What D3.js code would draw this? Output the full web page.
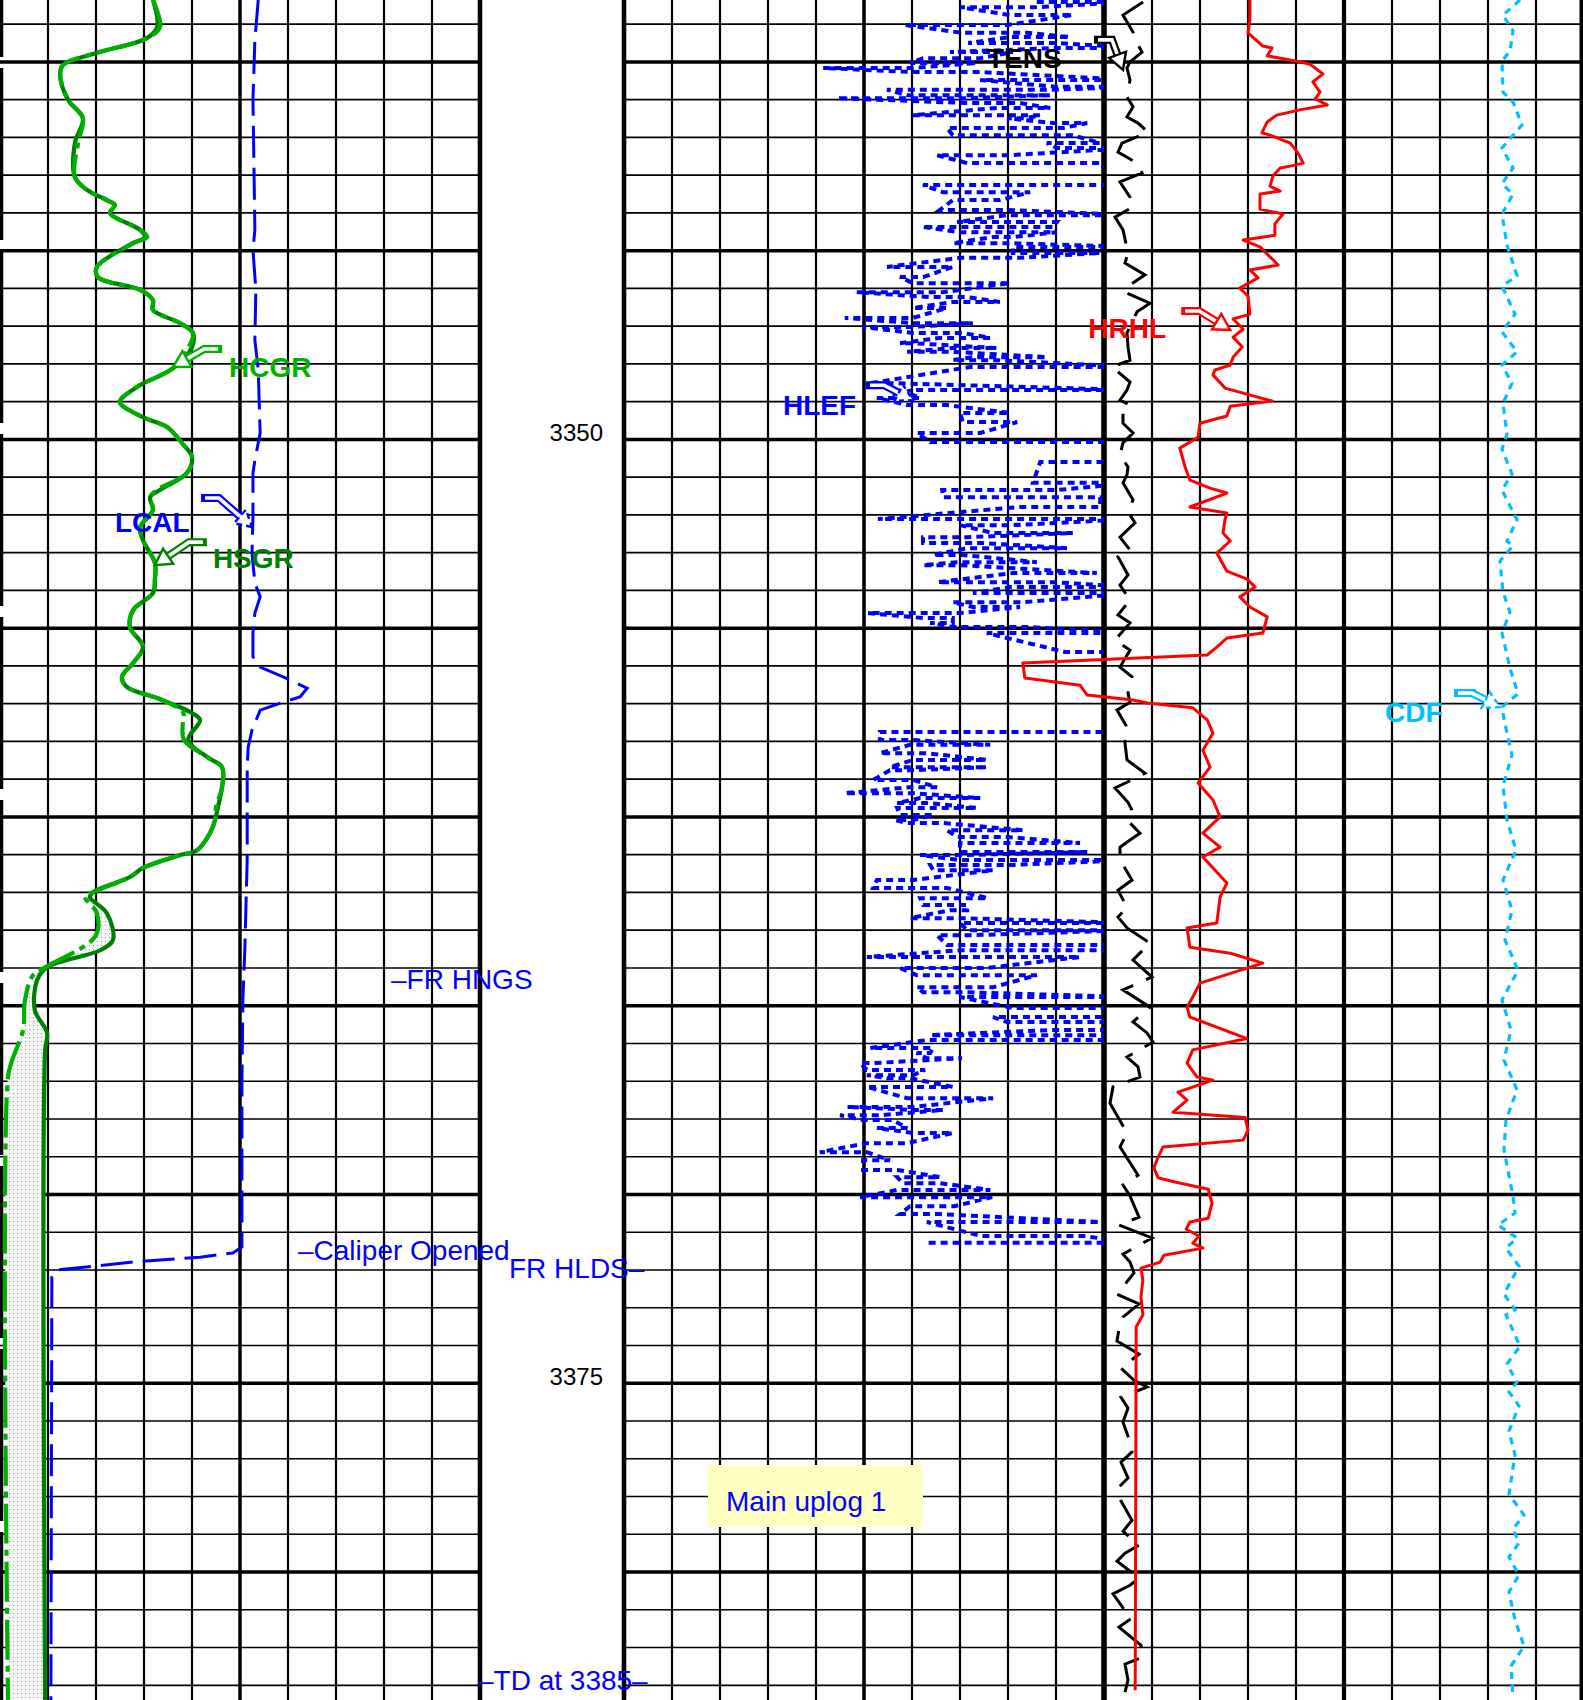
<!DOCTYPE html>
<html>
<head>
<meta charset="utf-8">
<script src="https://cdn.jsdelivr.net/npm/d3@7"></script>
<style>
html, body { margin: 0; padding: 0; background: #fff; }
svg { display: block; }
text { font-family: "Liberation Sans", Arial, Helvetica, sans-serif; }
</style>
</head>
<body>
<svg id="log" width="1583" height="1700"></svg>
<script>
// ---------- depth window (m) ----------
const DEPTH_TOP = 3338.36;
const DEPTH_BOTTOM = 3383.39;
const depthLabels = [3350, 3375];

// ---------- Track 1: gamma ray (gAPI) ----------
const HSGR = [
[3338.36,47.8],[3339.08,49.1],[3339.37,45.9],[3339.76,30.3],[3340.08,19.7],[3340.35,18.8],
[3341.01,21.3],[3341.49,25.9],[3342.15,23.4],[3343.05,23.4],[3343.39,27.2],[3343.66,33.4],
[3343.79,35.9],[3344.00,34.4],[3344.45,43.8],[3344.64,45.3],[3344.80,41.6],[3345.43,30.3],
[3345.70,30.6],[3346.04,43.8],[3346.31,47.8],[3346.57,47.8],[3346.92,56.3],[3347.18,60.3],
[3347.55,60.0],[3348.11,54.1],[3348.61,42.8],[3349.01,37.5],[3349.41,44.7],[3349.67,52.2],
[3350.10,56.9],[3350.47,60.0],[3350.89,58.4],[3351.34,50.0],[3351.53,46.9],[3351.87,47.8],
[3352.32,43.8],[3352.67,44.7],[3353.27,48.4],[3353.72,48.4],[3354.07,47.8],[3354.52,41.6],
[3354.97,40.6],[3355.50,44.7],[3355.92,41.6],[3356.29,38.1],[3356.56,39.7],[3356.85,49.1],
[3357.22,59.4],[3357.43,62.5],[3357.96,58.8],[3358.41,64.7],[3358.68,69.4],[3359.21,69.4],
[3359.74,68.1],[3360.08,67.2],[3360.43,65.6],[3360.88,61.6],[3361.01,56.3],[3361.35,44.7],
[3361.59,40.6],[3361.99,29.1],[3362.12,28.1],[3362.55,33.4],[3363.26,35.3],[3363.53,31.3],
[3363.98,14.7],[3364.32,11.6],[3365.12,10.9],[3365.72,14.7],[3366.18,14.1],[3383.39,14.1]
];
const HCGR = [
[3338.36,47.8],[3339.08,50.0],[3339.37,45.9],[3339.76,30.3],[3340.08,19.7],[3340.35,18.8],
[3341.01,21.3],[3341.49,25.9],[3342.15,24.4],[3343.05,23.4],[3343.39,27.2],[3343.66,33.4],
[3343.79,35.9],[3344.00,34.4],[3344.45,43.8],[3344.64,46.0],[3344.80,41.6],[3345.43,30.3],
[3345.70,30.6],[3346.04,43.8],[3346.31,47.8],[3346.57,47.8],[3346.92,56.3],[3347.18,60.3],
[3347.55,59.0],[3348.11,54.1],[3348.61,42.8],[3349.01,37.5],[3349.41,44.7],[3349.67,52.2],
[3350.10,56.9],[3350.47,60.0],[3350.89,58.4],[3351.34,49.0],[3351.53,46.9],[3351.87,47.8],
[3352.32,43.8],[3352.67,44.7],[3353.27,48.4],[3353.72,48.4],[3354.07,47.8],[3354.52,41.6],
[3354.97,40.6],[3355.50,44.7],[3355.92,41.6],[3356.29,38.1],[3356.56,39.7],[3356.85,49.1],
[3357.22,57.2],[3357.43,57.2],[3357.96,57.5],[3358.41,64.7],[3358.68,69.4],[3359.21,69.4],
[3359.74,67.5],[3360.08,67.2],[3360.43,65.6],[3360.88,61.6],[3361.01,56.3],[3361.35,44.7],
[3361.59,40.6],[3361.99,29.1],[3362.12,26.6],[3362.55,30.3],[3363.17,29.7],[3363.98,14.1],
[3364.19,10.3],[3364.85,7.8],[3365.65,7.2],[3366.44,3.8],[3366.89,2.5],[3383.39,2.5]
];
const GR_SPLIT_DEPTH = 3361.99;

// ---------- Track 1: caliper (in) ----------
const LCAL = [
[3338.36,11.38],[3339.42,11.31],[3341.01,11.27],[3344.45,11.31],[3344.98,11.27],[3346.04,11.33],
[3347.37,11.31],[3348.16,11.38],[3349.83,11.42],[3350.55,11.31],[3350.89,11.27],[3352.06,11.27],
[3353.01,11.25],[3353.80,11.31],[3354.17,11.42],[3354.60,11.31],[3355.13,11.27],[3355.76,11.27],
[3356.03,11.42],[3356.37,12.04],[3356.59,12.40],[3356.82,12.25],[3356.96,11.90],[3357.17,11.42],
[3357.70,11.25],[3358.15,11.17],[3358.68,11.15],[3361.14,11.15],[3363.53,11.10],[3364.85,11.06],
[3367.05,11.04],[3371.39,11.04],[3371.55,10.85],[3371.66,10.17],[3371.79,8.77],[3372.00,7.19],
[3372.19,7.08],[3383.39,7.06]
];

// ---------- Track 2: photoelectric factor sweeps [depth, from, to] (b/e) ----------
const hlefSweeps = [
[3338.41,8.60,10.6],[3338.55,7.00,8.60],[3338.76,8.04,9.35],[3339.02,5.85,7.98],[3339.23,7.04,8.40],
[3339.34,8.04,9.29],[3339.50,7.17,9.02],[3339.63,9.02,10.6],[3339.74,6.79,8.10],[3339.90,6.23,7.42],
[3340.03,5.96,7.35],[3340.16,4.15,6.02],[3340.27,6.02,7.42],[3340.48,7.42,10.6],[3340.66,9.02,10.6],
[3340.74,5.48,8.88],[3340.88,5.90,8.88],[3340.96,4.44,7.15],[3341.09,7.15,8.25],[3341.22,7.77,8.88],
[3341.41,6.02,8.67],[3341.49,7.98,8.40],[3341.62,8.94,9.65],[3341.75,6.73,9.15],[3341.94,6.85,9.35],
[3342.15,8.81,9.92],[3342.28,9.02,10.6],[3342.47,6.52,8.04],[3342.68,7.15,9.92],[3343.26,6.23,10.6],
[3343.45,6.65,8.46],[3343.66,6.85,7.83],[3343.92,6.58,7.98],[3344.06,7.98,10.6],[3344.24,6.94,9.02],
[3344.37,6.21,8.94],[3344.51,7.00,9.02],[3344.64,7.69,8.10],[3344.80,6.85,7.98],[3344.90,8.10,10.6],
[3345.06,8.10,9.92],[3345.19,7.00,8.25],[3345.43,5.48,6.85],[3345.70,5.75,6.23],[3345.86,6.02,8.04],
[3346.10,4.85,6.65],[3346.23,6.38,7.15],[3346.36,6.85,7.83],[3346.52,6.02,6.73],[3346.78,4.60,6.02],
[3346.92,6.02,7.27],[3347.02,4.96,6.02],[3347.18,6.02,7.06],[3347.31,6.58,7.63],[3347.45,5.75,6.02],
[3347.58,6.85,7.77],[3347.68,5.90,6.85],[3347.82,7.27,8.81],[3347.90,6.85,7.77],[3348.08,7.21,10.6],
[3348.51,5.13,5.60],[3348.69,6.02,10.6],[3348.82,5.60,6.02],[3348.90,5.27,6.17],[3349.09,5.90,6.73],
[3349.30,7.00,8.04],[3349.54,7.06,8.19],[3349.83,6.10,7.42],[3350.07,6.38,10.6],[3350.60,8.67,10.6],
[3351.15,8.52,10.6],[3351.34,6.63,9.02],[3351.53,6.65,9.92],[3351.79,8.25,9.92],[3352.11,5.29,10.6],
[3352.27,7.00,8.10],[3352.48,7.69,9.35],[3352.59,6.23,7.15],[3352.74,6.23,7.42],[3352.88,7.15,9.23],
[3353.06,6.44,7.06],[3353.25,6.94,8.60],[3353.33,6.23,7.00],[3353.54,8.10,9.85],[3353.78,6.54,8.94],
[3353.91,8.04,10.6],[3354.07,7.27,10.6],[3354.31,6.85,8.31],[3354.44,7.27,8.25],[3354.60,5.08,7.00],
[3354.73,6.23,6.85],[3354.86,6.38,6.85],[3354.97,6.85,8.46],[3355.13,7.56,10.6],[3355.63,9.19,10.6],
[3357.75,5.33,10.6],[3357.96,5.33,6.02],[3358.09,5.96,7.63],[3358.31,5.33,6.31],[3358.49,6.02,7.56],
[3358.68,5.54,7.56],[3358.76,5.54,6.02],[3359.02,5.19,6.02],[3359.21,5.96,6.52],[3359.37,4.60,6.02],
[3359.50,6.17,7.42],[3359.63,5.69,6.31],[3359.76,5.69,7.35],[3359.95,5.75,6.44],[3360.08,5.65,6.02],
[3360.16,5.90,6.65],[3360.35,6.73,8.31],[3360.53,6.94,7.98],[3360.69,7.00,9.50],[3360.93,7.00,9.65],
[3361.01,6.17,7.00],[3361.14,7.00,10.6],[3361.27,6.38,8.10],[3361.41,6.44,7.69],[3361.67,5.27,6.02],
[3361.88,5.19,6.73],[3362.15,6.17,7.58],[3362.33,6.23,7.15],[3362.47,6.79,7.15],[3362.68,5.96,7.00],
[3362.81,7.00,10.6],[3363.00,7.15,10.6],[3363.13,6.52,7.27],[3363.39,6.73,10.6],[3363.53,7.00,10.6],
[3363.71,5.06,9.50],[3364.00,5.75,7.56],[3364.19,6.10,8.60],[3364.51,6.10,7.69],[3364.64,6.23,7.00],
[3364.77,7.00,10.6],[3365.06,8.10,10.6],[3365.30,7.69,10.6],[3365.43,7.98,10.6],[3365.64,8.94,9.92],
[3365.78,6.38,9.92],[3365.91,6.31,10.6],[3366.12,5.13,6.44],[3366.25,6.10,6.38],[3366.39,6.31,7.04],
[3366.52,4.92,5.19],[3366.70,5.06,6.27],[3366.84,5.06,6.02],[3366.92,5.48,5.96],[3367.15,5.06,6.85],
[3367.45,5.90,7.69],[3367.68,4.65,6.02],[3367.76,6.02,6.65],[3367.90,4.50,5.33],[3368.03,4.98,5.60],
[3368.24,5.27,5.90],[3368.37,6.02,6.85],[3368.64,5.06,5.90],[3368.88,4.08,5.06],[3369.09,4.98,5.54],
[3369.35,4.98,5.69],[3369.54,5.69,6.58],[3369.70,5.81,6.58],[3369.88,5.69,7.63],[3370.07,4.92,7.67],
[3370.31,5.96,6.88],[3370.52,5.75,6.58],[3370.73,6.31,9.92],[3371.10,7.44,9.58],[3371.28,6.31,10.6]
];

// ---------- cable tension (lbf) ----------
const TENS = [
[3338.41,5190],[3338.76,4990],[3339.21,5090],[3339.50,5130],[3339.74,5180],[3340.00,5060],[3340.16,5030],
[3340.48,5060],[3340.93,5030],[3341.19,5090],[3341.46,5030],[3341.62,5140],[3341.86,5240],[3342.15,4980],
[3342.39,4940],[3342.68,5130],[3342.94,5180],[3343.18,4960],[3343.58,5060],[3343.84,5090],[3344.11,4910],
[3344.45,4990],[3345.06,5040],[3345.33,5010],[3345.64,5210],[3345.91,5060],[3346.10,5010],[3346.39,5260],
[3346.62,5130],[3347.18,5030],[3347.55,5040],[3347.90,5060],[3348.08,4880],[3348.48,5060],[3348.69,5030],
[3348.96,4960],[3349.09,5060],[3349.30,4990],[3349.57,4990],[3349.83,5090],[3350.09,4990],[3350.41,4960],
[3350.73,5040],[3350.94,5030],[3351.15,4990],[3351.60,5090],[3351.92,5040],[3352.21,5110],[3352.59,4960],
[3352.93,5060],[3353.11,4940],[3353.59,5040],[3353.86,4960],[3354.25,5060],[3354.65,4940],[3354.86,5060],
[3355.31,4910],[3355.58,5060],[3356.03,4960],[3356.29,5080],[3356.72,5040],[3356.96,5060],[3357.17,4930],
[3357.62,5030],[3358.04,5010],[3358.49,5030],[3358.84,5210],[3359.08,5030],[3359.23,4910],[3359.61,5040],
[3359.87,5090],[3360.16,5060],[3360.43,5160],[3360.61,5060],[3360.80,4960],[3361.14,4960],[3361.67,5080],
[3361.94,4940],[3362.39,5030],[3362.65,4940],[3362.94,5030],[3363.34,5260],[3363.79,5090],[3364.24,5280],
[3364.58,4990],[3365.04,5260],[3365.19,5190],[3365.43,5090],[3365.72,5230],[3365.96,5290],[3366.36,5030],
[3366.62,5140],[3366.89,5160],[3367.15,4890],[3367.58,4860],[3368.37,5030],[3368.74,4960],[3369.49,5140],
[3369.75,4990],[3370.04,5060],[3370.60,5150],[3370.81,4950],[3371.15,5280],[3371.58,4990],[3371.79,5060],
[3372.08,5100],[3372.64,4930],[3372.90,5150],[3373.25,4990],[3373.56,4950],[3373.88,4930],[3374.23,5150],
[3374.60,4970],[3374.92,5100],[3375.10,5230],[3375.37,4970],[3375.66,5040],[3376.03,4990],[3376.40,5040],
[3376.82,5080],[3377.09,4970],[3377.51,5040],[3377.75,4950],[3378.12,4970],[3378.63,5080],[3378.92,4990],
[3379.29,5150],[3379.50,5010],[3379.71,4930],[3380.16,5150],[3380.35,5060],[3380.58,4890],[3380.95,4990],
[3381.22,5080],[3381.46,4950],[3381.94,5170],[3382.25,5190],[3382.44,5010],[3382.86,5040],[3383.18,5010]
];

// ---------- resistivity (ohm.m) ----------
const HRHL = [
[3338.36,13.04],[3338.89,13.04],[3339.23,13.00],[3339.58,13.31],[3339.63,13.50],[3339.84,13.40],
[3339.98,14.02],[3340.06,14.29],[3340.32,14.56],[3340.53,14.35],[3340.80,14.50],[3340.98,14.40],
[3341.14,14.65],[3341.27,14.08],[3341.41,13.60],[3341.59,13.40],[3341.88,13.29],[3341.94,13.46],
[3342.15,13.88],[3342.41,14.04],[3342.68,14.15],[3342.76,13.88],[3342.81,13.67],[3343.02,13.52],
[3343.29,13.46],[3343.42,13.67],[3343.50,13.25],[3343.90,13.25],[3344.03,13.73],[3344.29,13.56],
[3344.59,13.56],[3344.72,12.90],[3344.90,13.25],[3345.38,13.63],[3345.51,13.04],[3345.72,13.21],
[3345.99,12.83],[3346.20,13.00],[3346.68,13.04],[3346.81,12.69],[3347.08,12.90],[3347.29,12.69],
[3347.55,12.88],[3347.82,12.69],[3348.03,12.63],[3348.16,12.31],[3348.29,12.27],[3348.64,12.52],
[3348.98,13.50],[3349.12,12.63],[3349.38,12.56],[3349.57,12.00],[3349.94,11.96],[3350.23,11.58],
[3350.73,11.69],[3351.08,11.79],[3351.29,12.21],[3351.42,12.56],[3351.79,11.79],[3351.95,12.56],
[3352.13,12.52],[3352.48,12.48],[3352.69,12.63],[3353.01,12.35],[3353.49,12.56],[3353.70,12.98],
[3353.91,13.15],[3354.17,12.83],[3354.44,13.04],[3354.70,13.40],[3355.13,13.31],[3355.26,12.56],
[3355.50,12.35],[3355.71,12.15],[3355.92,8.31],[3356.32,8.35],[3356.51,9.50],[3356.77,9.65],
[3356.90,10.60],[3356.98,10.90],[3357.11,11.85],[3357.43,12.15],[3357.78,12.27],[3358.23,12.06],
[3358.68,12.21],[3359.10,11.96],[3359.55,12.27],[3360.00,12.42],[3360.43,12.06],[3360.80,12.42],
[3361.06,12.06],[3361.75,12.56],[3362.12,12.42],[3362.81,12.35],[3362.94,11.73],[3363.45,11.79],
[3363.61,12.63],[3363.87,13.31],[3364.40,12.00],[3364.77,11.85],[3365.04,11.73],[3365.30,11.79],
[3365.87,12.98],[3366.17,11.85],[3366.52,11.73],[3366.89,11.94],[3366.97,12.27],[3367.29,11.54],
[3367.50,11.73],[3367.82,11.44],[3367.96,12.94],[3368.30,13.00],[3368.56,12.90],[3368.74,11.23],
[3369.09,11.10],[3369.30,11.04],[3369.56,11.13],[3369.67,11.48],[3369.86,12.17],[3370.23,12.25],
[3370.63,12.17],[3370.73,11.79],[3370.92,11.71],[3371.10,11.98],[3371.29,11.85],[3371.42,12.06],
[3371.61,11.25],[3371.79,11.17],[3371.95,10.77],[3372.27,10.81],[3372.72,10.77],[3373.19,10.81],
[3373.51,10.67],[3383.13,10.65]
];

// ---------- cable differential force (lbf) ----------
const CDF = [
[3338.36,1760],[3338.76,1590],[3339.18,1690],[3339.71,1660],[3339.98,1580],[3340.80,1590],[3341.06,1690],
[3341.67,1780],[3342.28,1580],[3342.81,1690],[3343.23,1580],[3343.50,1690],[3344.03,1580],[3344.85,1630],
[3345.67,1730],[3345.94,1580],[3346.68,1710],[3347.15,1580],[3347.68,1730],[3348.03,1580],[3348.51,1680],
[3349.04,1590],[3349.86,1630],[3350.25,1580],[3350.92,1680],[3351.34,1580],[3352.13,1730],[3352.69,1630],
[3352.82,1690],[3353.22,1560],[3354.04,1590],[3354.57,1660],[3355.13,1580],[3356.06,1660],[3356.74,1740],
[3357.09,1580],[3357.54,1610],[3358.36,1680],[3359.18,1590],[3360.08,1630],[3360.88,1720],[3361.67,1590],
[3362.47,1680],[3363.26,1610],[3364.06,1740],[3364.85,1580],[3365.64,1670],[3366.44,1600],[3367.23,1730],
[3368.03,1620],[3368.82,1600],[3370.04,1690],[3370.49,1710],[3370.81,1540],[3371.15,1730],[3371.42,1620],
[3371.90,1750],[3372.64,1600],[3373.06,1710],[3373.19,1620],[3374.02,1760],[3374.49,1630],[3374.97,1730],
[3375.23,1650],[3375.60,1750],[3376.27,1650],[3376.90,1710],[3377.94,1650],[3378.49,1800],[3378.86,1690],
[3379.23,1750],[3379.60,1650],[3380.08,1750],[3380.53,1650],[3381.27,1710],[3381.96,1800],[3382.49,1670],
[3383.31,1690]
];

// ---------- curve name flags: tip sits on the curve at [depth, value] ----------
const curveLabels = [
  { name: "HCGR", color: "#00b000", scale: "gr",   depth: 3348.08, value: 54.1,  tail: [45, -18],  text: [56, 10] },
  { name: "HSGR", color: "#008000", scale: "gr",   depth: 3353.33, value: 48.4,  tail: [48, -23],  text: [58, 3] },
  { name: "LCAL", color: "#0000ff", scale: "cal",  depth: 3352.32, value: 11.25, tail: [-47, -29], text: [-137, 5], dash: "6,4" },
  { name: "HLEF", color: "#0000ff", scale: "pef",  depth: 3348.96, value: 6.02,  tail: [-43, -15], text: [-130, 15], dash: "5,4" },
  { name: "TENS", color: "#000000", scale: "tens", depth: 3340.21, value: 4990,  tail: [-25, -30], text: [-136, -2] },
  { name: "HRHL", color: "#ff0000", scale: "res",  depth: 3347.10, value: 12.63, tail: [-45, -19], text: [-142, 8] },
  { name: "CDF",  color: "#00bfff", scale: "cdf",  depth: 3357.09, value: 1560,  tail: [-42, -14], text: [-115, 15], dash: "5,4" }
];

// ---------- depth event notes ----------
const depthNotes = [
  { text: "\u2013FR HNGS",        depth: 3364.29, x: 391 },
  { text: "\u2013Caliper Opened", depth: 3371.47, x: 298 },
  { text: "FR HLDS\u2013",        depth: 3371.95, x: 509 },
  { text: "\u2013TD at 3385\u2013", depth: 3382.86, x: 478 }
];
const passTitle = "Main uplog 1";

// ================= drawing =================
const W = 1583, H = 1700;
const svg = d3.select("#log");

const y = d3.scaleLinear().domain([DEPTH_TOP, DEPTH_BOTTOM]).range([0, H]);
const scales = {
  gr:   d3.scaleLinear().domain([0, 150]).range([0, 480]),
  cal:  d3.scaleLinear().domain([6, 16]).range([0, 480]),
  pef:  d3.scaleLinear().domain([0, 10]).range([624, 1104]),
  tens: d3.scaleLinear().domain([0, 9600]).range([624, 1584]),
  res:  d3.scaleLinear().domain([0, 20]).range([624, 1584]),
  cdf:  d3.scaleLinear().domain([-2400, 2400]).range([1104, 1584])
};
const lineFor = (xs, curve) => {
  const l = d3.line().x(d => xs(d[1])).y(d => y(d[0]));
  return curve ? l.curve(curve) : l;
};
const smooth = d3.curveCatmullRom.alpha(0.5);

const defs = svg.append("defs");
const pat = defs.append("pattern").attr("id", "stipple")
  .attr("width", 4).attr("height", 4).attr("patternUnits", "userSpaceOnUse");
pat.append("rect").attr("width", 4).attr("height", 4).attr("fill", "#f7f7f7");
pat.append("rect").attr("x", 1).attr("y", 1).attr("width", 1).attr("height", 1).attr("fill", "#999");
defs.append("clipPath").attr("id", "clipT1").append("rect").attr("x", 0).attr("y", 0).attr("width", 480).attr("height", H);
defs.append("clipPath").attr("id", "clipT2").append("rect").attr("x", 624).attr("y", 0).attr("width", 480).attr("height", H);

svg.append("rect").attr("width", W).attr("height", H).attr("fill", "#fff");

// ----- grid -----
const grid = svg.append("g");
const gridDepths = d3.range(Math.ceil(DEPTH_TOP), DEPTH_BOTTOM, 1);
[[0, 480], [624, 1584]].forEach(([a, b]) => {
  grid.append("g").selectAll("line").data(gridDepths).join("line")
    .attr("x1", a).attr("x2", b)
    .attr("y1", d => y(d)).attr("y2", d => y(d))
    .attr("stroke", "#000")
    .attr("stroke-width", d => d % 5 === 0 ? 3.5 : 1.7);
});
const vLines = [];
for (let i = 1; i < 10; i++) vLines.push({ x: 48 * i, w: i === 5 ? 3.5 : 2.2 });
for (let i = 1; i < 10; i++) vLines.push({ x: 624 + 48 * i, w: i === 5 ? 3.6 : 2.2 });
for (let i = 1; i < 10; i++) vLines.push({ x: 1104 + 48 * i, w: i === 5 ? 4.2 : 2.2 });
vLines.push({ x: 480, w: 4.6 }, { x: 624, w: 4.6 }, { x: 1104, w: 5.6 }, { x: 1581.5, w: 4 });
grid.append("g").selectAll("line").data(vLines).join("line")
  .attr("x1", d => d.x).attr("x2", d => d.x).attr("y1", 0).attr("y2", H)
  .attr("stroke", "#000").attr("stroke-width", d => d.w);
grid.append("line").attr("x1", 1.5).attr("x2", 1.5).attr("y1", 0).attr("y2", H)
  .attr("stroke", "#000").attr("stroke-width", 3.5)
  .attr("stroke-dasharray", "172,11").attr("stroke-dashoffset", 115);

// ----- track 1 -----
const t1 = svg.append("g").attr("clip-path", "url(#clipT1)");
const gr = scales.gr;
const grLine = lineFor(gr, smooth);
const rightPart = HSGR.filter(d => d[0] >= GR_SPLIT_DEPTH);
const leftPart = HCGR.filter(d => d[0] >= GR_SPLIT_DEPTH).reverse();
t1.append("path")
  .attr("d", grLine(rightPart) + "L" + grLine(leftPart).slice(1) + "Z")
  .attr("fill", "url(#stipple)").attr("stroke", "none");

t1.append("path").datum(LCAL).attr("d", lineFor(scales.cal))
  .attr("fill", "none").attr("stroke", "#0000ff").attr("stroke-width", 3)
  .attr("stroke-dasharray", "32,10");
t1.append("path").datum(HSGR).attr("d", grLine)
  .attr("fill", "none").attr("stroke", "#008000").attr("stroke-width", 4.2)
  .attr("stroke-linejoin", "round");
t1.append("path").datum(HCGR).attr("d", grLine)
  .attr("fill", "none").attr("stroke", "#00b000").attr("stroke-width", 4.2)
  .attr("stroke-linejoin", "round").attr("stroke-dasharray", "40,6,6,6");

// ----- track 2: photoelectric factor sweeps -----
const hlefPts = [];
hlefSweeps.forEach(([d, a, b], i) => {
  if (i % 2 === 0) hlefPts.push([d, a], [d, b]);
  else hlefPts.push([d, b], [d, a]);
});
svg.append("g").attr("clip-path", "url(#clipT2)")
  .append("path").datum(hlefPts).attr("d", lineFor(scales.pef))
  .attr("fill", "none").attr("stroke", "#0000ff").attr("stroke-width", 4)
  .attr("stroke-dasharray", "7,5");

// ----- tension, resistivity, differential force -----
svg.append("path").datum(TENS).attr("d", lineFor(scales.tens))
  .attr("fill", "none").attr("stroke", "#000").attr("stroke-width", 3)
  .attr("stroke-dasharray", "45,14");
svg.append("path").datum(HRHL).attr("d", lineFor(scales.res))
  .attr("fill", "none").attr("stroke", "#ff0000").attr("stroke-width", 3)
  .attr("stroke-linejoin", "round");
svg.append("path").datum(CDF).attr("d", lineFor(scales.cdf))
  .attr("fill", "none").attr("stroke", "#00bfff").attr("stroke-width", 3.2)
  .attr("stroke-dasharray", "7,6");

// ----- curve name flags -----
const flags = svg.append("g");
function drawFlag(tip, tail, color, dash) {
  const dir = tip[0] < tail[0] ? -1 : 1;
  const bend = [tail[0] + dir * 14, tail[1]];
  const vx = tip[0] - bend[0], vy = tip[1] - bend[1];
  const len = Math.hypot(vx, vy), ux = vx / len, uy = vy / len;
  const headLen = 16, headW = 9;
  const base = [tip[0] - ux * headLen, tip[1] - uy * headLen];
  const shaft = d3.line()([tail, bend, base]);
  flags.append("path").attr("d", shaft).attr("fill", "none")
    .attr("stroke", color).attr("stroke-width", 8)
    .attr("stroke-linecap", "square").attr("stroke-linejoin", "miter")
    .attr("stroke-dasharray", dash || null);
  flags.append("path").attr("d", shaft).attr("fill", "none")
    .attr("stroke", "#fff").attr("stroke-width", 3.6);
  const px = -uy, py = ux;
  const head = [tip, [base[0] + px * headW, base[1] + py * headW], [base[0] - px * headW, base[1] - py * headW]];
  flags.append("path").attr("d", d3.line()(head) + "Z")
    .attr("fill", "#fff").attr("stroke", color).attr("stroke-width", 2.4)
    .attr("stroke-dasharray", dash || null);
}
curveLabels.forEach(l => {
  const tip = [scales[l.scale](l.value), y(l.depth)];
  drawFlag(tip, [tip[0] + l.tail[0], tip[1] + l.tail[1]], l.color, l.dash);
  flags.append("text").attr("x", tip[0] + l.text[0]).attr("y", tip[1] + l.text[1])
    .attr("font-size", 28).attr("font-weight", "bold").attr("fill", l.color).text(l.name);
});

// ----- depth numbers -----
svg.append("g").selectAll("text").data(depthLabels).join("text")
  .attr("x", 603).attr("y", d => y(d) + 2).attr("text-anchor", "end")
  .attr("font-size", 24).attr("fill", "#000").text(d => d);

// ----- depth event notes -----
svg.append("g").selectAll("text").data(depthNotes).join("text")
  .attr("x", d => d.x).attr("y", d => y(d.depth)).attr("dy", "0.35em")
  .attr("font-size", 28).attr("fill", "#0000ff").text(d => d.text);

// ----- pass title box -----
const tb = svg.append("g");
tb.append("rect").attr("x", 708).attr("y", 1465).attr("width", 215).attr("height", 62).attr("fill", "#ffffc0");
tb.append("text").attr("x", 726).attr("y", 1511).attr("font-size", 28).attr("fill", "#0000ff").text(passTitle);
</script>
</body>
</html>
